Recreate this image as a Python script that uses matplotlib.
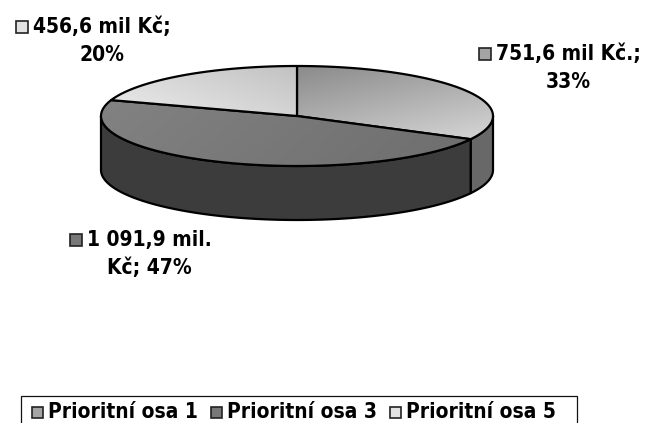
import numpy as np
import matplotlib
matplotlib.use('Agg')
import matplotlib.pyplot as plt
from matplotlib.patches import Polygon, Rectangle
from matplotlib.colors import to_rgb
from matplotlib import font_manager as fm

# ---------------- data ----------------
categories = ['Prioritní osa 1', 'Prioritní osa 3', 'Prioritní osa 5']
values = [751.6, 1091.9, 456.6]            # mil. Kč
label_line1 = ['751,6 mil Kč.;', '1 091,9 mil.', '456,6 mil Kč;']
label_line2 = ['33%', 'Kč; 47%', '20%']

# ---------------- style ----------------
top_grad = [('#8a8a8a', '#d6d6d6'), ('#828282', '#6e6e6e'), ('#c2c2c2', '#ececec')]
grad_dir = [(0.6, 1.0), (1.0, 0.2), (-0.8, 0.6)]
side_col = ['#686868', '#3c3c3c', '#b0b0b0']
legend_fill = ['#a4a4a4', '#787878', '#e2e2e2']

fp = fm.FontProperties(family='DejaVu Sans', weight='bold', stretch='condensed', size=15)

W, H = 645, 423
fig = plt.figure(figsize=(W / 100, H / 100), dpi=100)
ax = fig.add_axes([0, 0, 1, 1])
ax.set_xlim(0, W)
ax.set_ylim(H, 0)
ax.axis('off')

cx, cy, a, b, depth = 297, 116, 196, 50, 54


def pt(theta, dy=0.0):
    t = np.radians(theta)
    return cx + a * np.sin(t), cy - b * np.cos(t) + dy


def arc(t0, t1, dy=0.0, n=120):
    th = np.linspace(t0, t1, n)
    xs, ys = pt(th, dy)
    return np.column_stack([xs, ys])


fr = np.array(values) / np.sum(values)
bounds = np.concatenate([[0], np.cumsum(fr) * 360])

for i in range(len(values)):
    s, e = bounds[i], bounds[i + 1]
    lo, hi = max(s, 90), min(e, 270)
    if lo < hi:
        top = arc(lo, hi)
        bot = arc(hi, lo, depth)
        poly = Polygon(np.vstack([top, bot]), closed=True, facecolor=side_col[i],
                       edgecolor='black', lw=1.6, joinstyle='round', zorder=2)
        ax.add_patch(poly)


def gradient_fill(poly_xy, c0, c1, d, zorder):
    x0, y0 = poly_xy.min(axis=0)
    x1, y1 = poly_xy.max(axis=0)
    nx, ny = 200, 120
    X, Y = np.meshgrid(np.linspace(0, 1, nx), np.linspace(0, 1, ny))
    t = X * d[0] + Y * d[1]
    t = (t - t.min()) / (t.max() - t.min() + 1e-9)
    c0, c1 = np.array(to_rgb(c0)), np.array(to_rgb(c1))
    img = c0[None, None, :] * (1 - t[..., None]) + c1[None, None, :] * t[..., None]
    im = ax.imshow(img, extent=(x0, x1, y1, y0), origin='upper',
                   interpolation='bilinear', zorder=zorder, aspect='auto')
    patch = Polygon(poly_xy, closed=True, facecolor='none', edgecolor='black',
                    lw=1.6, joinstyle='round', zorder=zorder + 0.5)
    ax.add_patch(patch)
    im.set_clip_path(patch)


for i in range(len(values)):
    s, e = bounds[i], bounds[i + 1]
    xy = np.vstack([[cx, cy], arc(s, e), [cx, cy]])
    gradient_fill(xy, top_grad[i][0], top_grad[i][1], grad_dir[i], 3 + i)

ax.set_xlim(0, W)
ax.set_ylim(H, 0)

fig.canvas.draw()
renderer = fig.canvas.get_renderer()


def text_width(s):
    t = ax.text(0, 0, s, fontproperties=fp)
    bb = t.get_window_extent(renderer)
    t.remove()
    return bb.width


# ---------------- data labels ----------------
label_center = [(568, 54), (149, 240), (102, 27)]   # centre of first line
line_gap = 28
for i in range(len(values)):
    x, y = label_center[i]
    ax.text(x, y, label_line1[i], ha='center', va='center', fontproperties=fp, zorder=10)
    ax.text(x, y + line_gap, label_line2[i], ha='center', va='center', fontproperties=fp, zorder=10)
    w = text_width(label_line1[i])
    mx = x - w / 2 - 17
    ax.add_patch(Rectangle((mx, y - 6), 12, 12, facecolor=legend_fill[i],
                           edgecolor='#222222', lw=1.2, zorder=10))

# ---------------- legend ----------------
ax.add_patch(Rectangle((21, 396), 556, 40, facecolor='white', edgecolor='#111111',
                       lw=0.9, zorder=9))
x = 32
for i, cat in enumerate(categories):
    ax.add_patch(Rectangle((x, 407), 11, 11, facecolor=legend_fill[i],
                           edgecolor='#222222', lw=1.2, zorder=10))
    ax.text(x + 16, 412, cat, ha='left', va='center', fontproperties=fp, zorder=10)
    x += 16 + text_width(cat) + 13

fig.savefig('out.png', dpi=100)
